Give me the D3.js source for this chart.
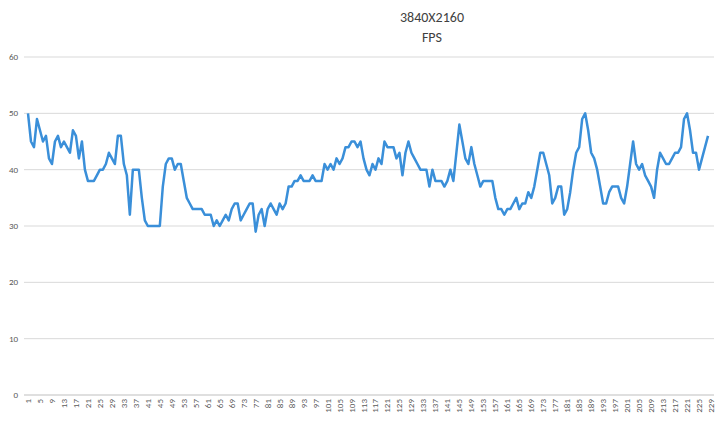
<!DOCTYPE html>
<html>
<head>
<meta charset="utf-8">
<script src="https://cdn.jsdelivr.net/npm/d3@7"></script>
<style>
  body { margin: 0; background: #fff; }
  text { font-family: Calibri, Carlito, "Liberation Sans", Arial, sans-serif; }
</style>
</head>
<body>
<svg id="chart" width="720" height="425"></svg>
<script>
const fps = [
  50, 45, 44, 49, 47, 45, 46, 42, 41, 45, 46, 44, 45, 44, 43, 47, 46, 42, 45, 40,
  38, 38, 38, 39, 40, 40, 41, 43, 42, 41, 46, 46, 41, 39, 32, 40, 40, 40, 35, 31,
  30, 30, 30, 30, 30, 37, 41, 42, 42, 40, 41, 41, 38, 35, 34, 33, 33, 33, 33, 32,
  32, 32, 30, 31, 30, 31, 32, 31, 33, 34, 34, 31, 32, 33, 34, 34, 29, 32, 33, 30,
  33, 34, 33, 32, 34, 33, 34, 37, 37, 38, 38, 39, 38, 38, 38, 39, 38, 38, 38, 41,
  40, 41, 40, 42, 41, 42, 44, 44, 45, 45, 44, 45, 42, 40, 39, 41, 40, 42, 41, 45,
  44, 44, 44, 42, 43, 39, 43, 45, 43, 42, 41, 40, 40, 40, 37, 40, 38, 38, 38, 37,
  38, 40, 38, 43, 48, 45, 42, 41, 44, 41, 39, 37, 38, 38, 38, 38, 35, 33, 33, 32,
  33, 33, 34, 35, 33, 34, 34, 36, 35, 37, 40, 43, 43, 41, 39, 34, 35, 37, 37, 32,
  33, 36, 40, 43, 44, 49, 50, 47, 43, 42, 40, 37, 34, 34, 36, 37, 37, 37, 35, 34,
  37, 41, 45, 41, 40, 41, 39, 38, 37, 35, 40, 43, 42, 41, 41, 42, 43, 43, 44, 49,
  50, 47, 43, 43, 40, 42, 44, 46
];
const frames = d3.range(1, 230);
const yTicks = [0, 10, 20, 30, 40, 50, 60];
const titleLines = ["3840X2160", "FPS"];

const svg = d3.select('#chart');
const plotLeft = 28, plotRight = 711, plotTop = 57, plotBottom = 395;

const x = d3.scalePoint().domain(frames).range([plotLeft, plotRight]);
const y = d3.scaleLinear().domain([0, 60]).range([plotBottom, plotTop]);

// gridlines
svg.append('g')
  .selectAll('line')
  .data(yTicks)
  .join('line')
  .attr('x1', 24).attr('x2', 714)
  .attr('y1', d => y(d)).attr('y2', d => y(d))
  .attr('stroke', d => d === 0 ? '#bfbfbf' : '#d9d9d9')
  .attr('stroke-width', 1);

// y labels
svg.append('g')
  .selectAll('text')
  .data(yTicks)
  .join('text')
  .attr('x', 18).attr('y', d => y(d) + 3)
  .attr('text-anchor', 'end')
  .attr('font-size', 9)
  .attr('fill', '#595959')
  .text(d => d);

// x labels
svg.append('g')
  .selectAll('text')
  .data(frames.filter(d => (d - 1) % 4 === 0))
  .join('text')
  .attr('transform', d => `translate(${x(d) + 3},399) rotate(-90)`)
  .attr('text-anchor', 'end')
  .attr('font-size', 9)
  .attr('fill', '#595959')
  .text(d => d);

// line
const line = d3.line()
  .x((d, i) => x(frames[i]))
  .y(d => y(d));

svg.append('path')
  .datum(fps)
  .attr('d', line)
  .attr('fill', 'none')
  .attr('stroke', '#3a8fd9')
  .attr('stroke-width', 2.5)
  .attr('stroke-linejoin', 'round');

// title
svg.append('g')
  .selectAll('text')
  .data(titleLines)
  .join('text')
  .attr('x', 432)
  .attr('y', (d, i) => 22 + i * 20)
  .attr('text-anchor', 'middle')
  .attr('font-size', 14)
  .attr('fill', '#404040')
  .text(d => d);
</script>
</body>
</html>
